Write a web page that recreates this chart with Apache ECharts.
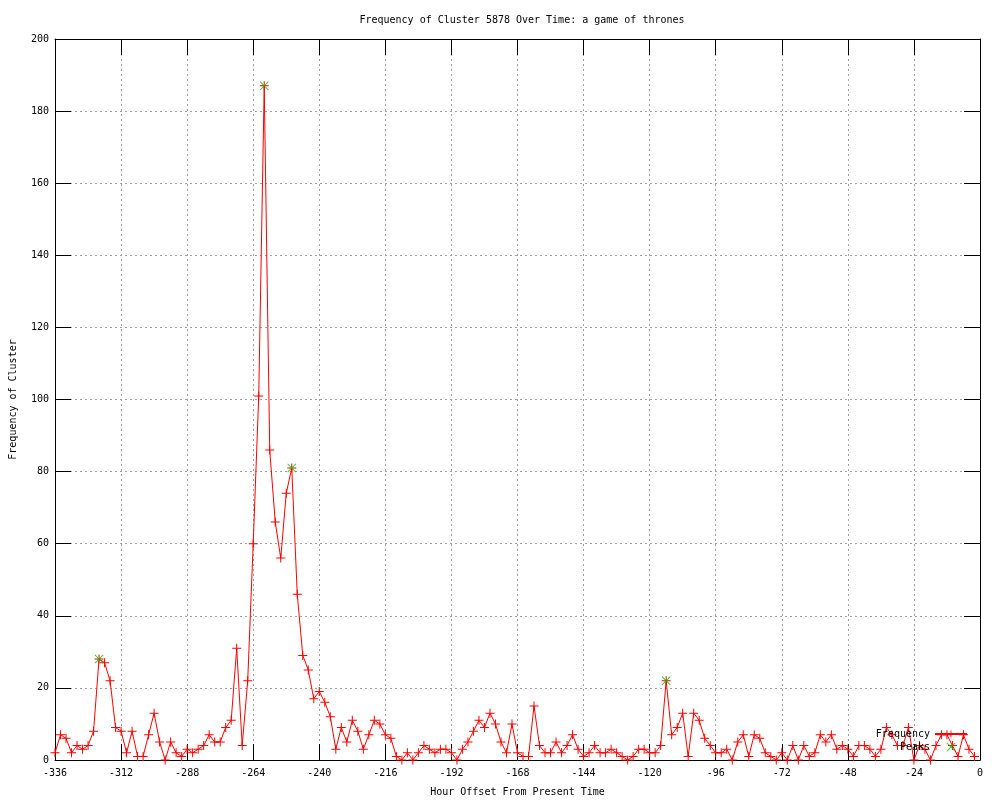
<!DOCTYPE html>
<html>
<head>
<meta charset="utf-8">
<script src="https://cdn.jsdelivr.net/npm/echarts@6/dist/echarts.min.js"></script>
<style>
html,body{margin:0;padding:0;background:#fff;}
#chart{width:1000px;height:800px;}
</style>
</head>
<body>
<div id="chart"></div>
<script>
// ---- data ----
const startHour = -336;   // first sample (hours from present)
const stepHours = 2;      // sampling step
const frequency = [
  2, 7, 6, 2, 4, 3, 4, 8, 28, 27, 22, 9, 8, 2, 8, 1, 1, 7, 13, 5,
  0, 5, 2, 1, 3, 2, 3, 4, 7, 5, 5, 9, 11, 31, 4, 22, 60, 101, 187, 86,
  66, 56, 74, 81, 46, 29, 25, 17, 19, 16, 12, 3, 9, 5, 11, 8, 3, 7, 11, 10,
  7, 6, 1, 0, 2, 0, 2, 4, 3, 2, 3, 3, 2, 0, 3, 5, 8, 11, 9, 13,
  10, 5, 2, 10, 2, 1, 1, 15, 4, 2, 2, 5, 2, 4, 7, 3, 1, 2, 4, 2,
  2, 3, 2, 1, 0, 1, 3, 3, 2, 2, 4, 22, 7, 9, 13, 1, 13, 11, 6, 4,
  2, 2, 3, 0, 5, 7, 1, 7, 6, 2, 1, 0, 2, 0, 4, 0, 4, 1, 2, 7,
  5, 7, 3, 4, 3, 1, 4, 4, 3, 1, 3, 9, 7, 4, 4, 9, 0, 4, 3, 0,
  4, 7, 7, 4, 1, 7, 3, 1
];
const peakHours = [-320, -260, -250, -114];
const peakValues = [28, 187, 81, 22];
const xTicks = { min: -336, max: 0, interval: 24 };
const yTicks = { min: 0, max: 200, interval: 20 };

const freqData = frequency.map((v, i) => [startHour + i * stepHours, v]);
const peakData = peakHours.map((h, i) => [h, peakValues[i]]);

const FONT = 'DejaVu Sans Mono';
const plusPath = 'path://M4,0h1v9h-1z M0,4h9v1h-9z';
const xPath = 'path://M0,0.7L0.7,0L9,8.3L8.3,9Z M8.3,0L9,0.7L0.7,9L0,8.3Z';

const gridStyle = { show: true, lineStyle: { color: '#a0a0a0', width: 1, type: [2, 3] } };
const tickStyle = { show: true, inside: true, length: 16, lineStyle: { color: '#000', width: 1 } };
const lineStyleAxis = { show: true, onZero: false, lineStyle: { color: '#000', width: 1 } };

const chart = echarts.init(document.getElementById('chart'), null, { renderer: 'canvas' });
chart.setOption({
  animation: false,
  backgroundColor: '#fff',
  title: {
    text: 'Frequency of Cluster 5878 Over Time: a game of thrones',
    left: 517, top: 10, textAlign: 'center',
    textStyle: { fontFamily: FONT, fontSize: 10, fontWeight: 'normal', color: '#000' }
  },
  grid: { left: 55, right: 20, top: 39, bottom: 40, containLabel: false, outerBoundsMode: 'none' },
  legend: {
    data: [{ name: 'Frequency' }, { name: 'Peaks' }],
    orient: 'vertical', align: 'right',
    right: 27, top: 724,
    itemWidth: 32, itemHeight: 9, itemGap: 3,
    textStyle: { fontFamily: FONT, fontSize: 10, color: '#000' }
  },
  xAxis: [{
    type: 'value', position: 'bottom',
    min: xTicks.min, max: xTicks.max, interval: xTicks.interval,
    name: 'Hour Offset From Present Time', nameLocation: 'middle', nameGap: 27,
    nameTextStyle: { fontFamily: FONT, fontSize: 10, color: '#000' },
    axisLine: lineStyleAxis, axisTick: tickStyle, splitLine: gridStyle,
    axisLabel: { fontFamily: FONT, fontSize: 10, color: '#000', margin: 8 }
  }, {
    type: 'value', position: 'top',
    min: xTicks.min, max: xTicks.max, interval: xTicks.interval,
    axisLine: lineStyleAxis, axisTick: tickStyle, splitLine: { show: false },
    axisLabel: { show: false }
  }],
  yAxis: [{
    type: 'value', position: 'left',
    min: yTicks.min, max: yTicks.max, interval: yTicks.interval,
    name: 'Frequency of Cluster', nameLocation: 'middle', nameGap: 37,
    nameTextStyle: { fontFamily: FONT, fontSize: 10, color: '#000' },
    axisLine: lineStyleAxis, axisTick: tickStyle, splitLine: gridStyle,
    axisLabel: { fontFamily: FONT, fontSize: 10, color: '#000', margin: 6 }
  }, {
    type: 'value', position: 'right',
    min: yTicks.min, max: yTicks.max, interval: yTicks.interval,
    axisLine: lineStyleAxis, axisTick: tickStyle, splitLine: { show: false },
    axisLabel: { show: false }
  }],
  series: [{
    name: 'Frequency', type: 'line',
    data: freqData,
    symbol: plusPath, symbolSize: 9, showAllSymbol: true,
    lineStyle: { color: '#ff0000', width: 1 },
    itemStyle: { color: '#ff0000', borderWidth: 0 },
    emphasis: { disabled: true },
    z: 2
  }, {
    name: 'Peaks', type: 'scatter',
    data: peakData,
    symbol: xPath, symbolSize: 9,
    itemStyle: { color: '#00c000', borderWidth: 0 },
    emphasis: { disabled: true },
    z: 3
  }]
});
</script>
</body>
</html>
